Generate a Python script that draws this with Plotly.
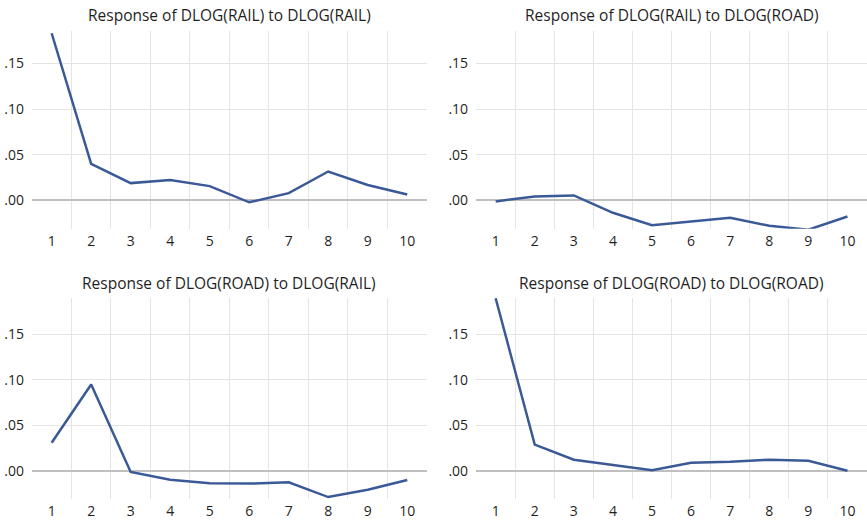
import plotly.graph_objects as go
from plotly.subplots import make_subplots

# Impulse-response horizons
periods = [1, 2, 3, 4, 5, 6, 7, 8, 9, 10]

# Responses (one panel each)
rail_to_rail = [0.183, 0.040, 0.019, 0.0225, 0.0157, -0.002, 0.008, 0.0317, 0.017, 0.0066]
rail_to_road = [-0.001, 0.0044, 0.0055, -0.0135, -0.027, -0.023, -0.019, -0.0277, -0.032, -0.0175]
road_to_rail = [0.0307, 0.0947, -0.0014, -0.0099, -0.0138, -0.0142, -0.0128, -0.029, -0.021, -0.0102]
road_to_road = [0.1895, 0.0287, 0.0121, 0.0059, 0.0005, 0.0088, 0.0099, 0.0121, 0.011, 0.000]

titles = [
    "Response of DLOG(RAIL) to DLOG(RAIL)",
    "Response of DLOG(RAIL) to DLOG(ROAD)",
    "Response of DLOG(ROAD) to DLOG(RAIL)",
    "Response of DLOG(ROAD) to DLOG(ROAD)",
]
y_tickvals = [0.0, 0.05, 0.10, 0.15]
y_ticktext = [".00", ".05", ".10", ".15"]

series = [rail_to_rail, rail_to_road, road_to_rail, road_to_road]

W, H = 867, 521
LINE_COLOR = "#3a5996"
GRID_COLOR = "#e4e4e4"
ZERO_COLOR = "#c0c0c0"
TEXT_COLOR = "#1f1f1f"
FONT = "Open Sans"

# panel geometry in pixels: (left, right, top, bottom)
panels = [
    (31.9, 427.0, 30.5, 228.8),
    (476.1, 867.0, 30.5, 228.8),
    (31.9, 427.0, 297.8, 498.9),
    (476.1, 867.0, 297.8, 498.9),
]
y_ranges = [[-0.031, 0.186], [-0.031, 0.186], [-0.031, 0.19], [-0.031, 0.19]]
title_y = [15, 15, 283, 283]

fig = make_subplots(rows=2, cols=2)

for i, (vals, (l, r, t, b)) in enumerate(zip(series, panels)):
    row, col = i // 2 + 1, i % 2 + 1
    fig.add_trace(
        go.Scatter(x=periods, y=vals, mode="lines",
                   line=dict(color=LINE_COLOR, width=2.5),
                   showlegend=False, hoverinfo="x+y"),
        row=row, col=col,
    )
    xa = "xaxis" if i == 0 else f"xaxis{i + 1}"
    ya = "yaxis" if i == 0 else f"yaxis{i + 1}"
    fig.layout[xa].update(
        domain=[l / W, min(r / W, 1.0)],
        range=[0.5, 10.5],
        tickmode="array", tickvals=periods, ticktext=[str(p) for p in periods],
        showgrid=False, zeroline=False, showline=False, ticks="",
        tickfont=dict(family=FONT, size=14, color=TEXT_COLOR),
        ticklabelstandoff=2,
        minor=dict(tickmode="array", tickvals=[p + 0.5 for p in periods[:-1]],
                   showgrid=True, gridcolor=GRID_COLOR, gridwidth=1, ticks=""),
        fixedrange=True,
    )
    fig.layout[ya].update(
        domain=[1 - b / H, 1 - t / H],
        range=y_ranges[i],
        tickmode="array", tickvals=y_tickvals, ticktext=y_ticktext,
        showgrid=True, gridcolor=GRID_COLOR, gridwidth=1,
        zeroline=True, zerolinecolor=ZERO_COLOR, zerolinewidth=1.5,
        showline=False, ticks="",
        tickfont=dict(family=FONT, size=14, color=TEXT_COLOR),
        ticklabelstandoff=7,
        fixedrange=True,
    )
    fig.add_annotation(
        text=titles[i], xref="paper", yref="paper",
        x=(l + min(r, W)) / 2 / W, y=1 - title_y[i] / H,
        xanchor="center", yanchor="middle", showarrow=False,
        font=dict(family=FONT, size=15.5, color=TEXT_COLOR),
    )

fig.update_layout(
    width=W, height=H,
    margin=dict(l=0, r=0, t=0, b=0),
    paper_bgcolor="white", plot_bgcolor="white",
)

fig.write_html("out.html", include_plotlyjs=True, config={"displayModeBar": False})
